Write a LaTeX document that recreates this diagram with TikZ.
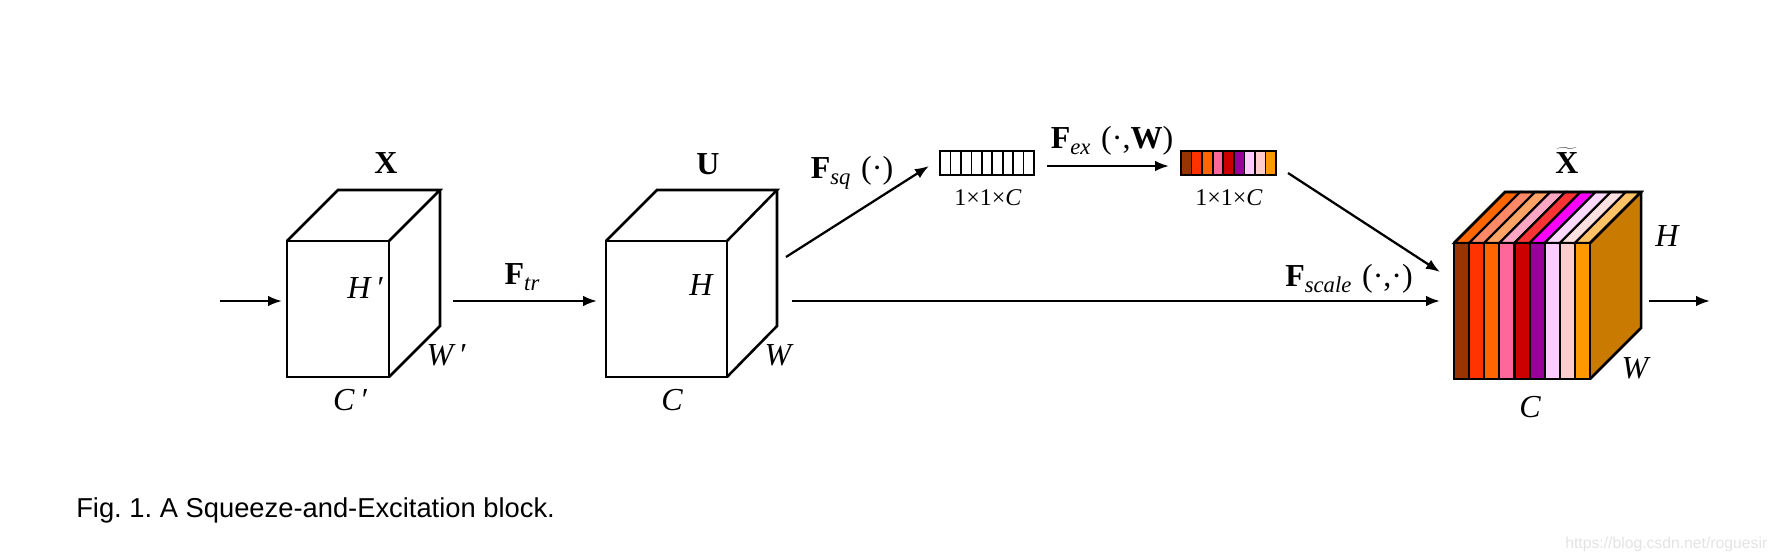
\documentclass[tikz,border=0pt]{standalone}
\usepackage{fontspec}
\setmainfont{Liberation Serif}
\newfontfamily\capfont{Liberation Sans}
\usetikzlibrary{arrows.meta}
\definecolor{fa}{HTML}{993300}\definecolor{fb}{HTML}{FF3300}\definecolor{fc}{HTML}{FF6600}
\definecolor{fd}{HTML}{FF6699}\definecolor{fe}{HTML}{CC0000}\definecolor{ff}{HTML}{990099}
\definecolor{fg}{HTML}{FFCCFF}\definecolor{fh}{HTML}{FFCCCC}\definecolor{fi}{HTML}{FF9900}
\definecolor{ta}{HTML}{FF6600}\definecolor{tb}{HTML}{FF8866}\definecolor{tc}{HTML}{FFA366}
\definecolor{td}{HTML}{FFA6C2}\definecolor{te}{HTML}{FF3333}\definecolor{tf}{HTML}{FF00FF}
\definecolor{tg}{HTML}{FFD9FF}\definecolor{th}{HTML}{FFE0E0}\definecolor{ti}{HTML}{FFC266}
\definecolor{sidecol}{HTML}{C97A00}
\newcommand\lowsub[1]{\raisebox{-4.5pt}{\fontsize{17}{17}\selectfont\itshape #1}}
\tikzset{
  arr/.style={line width=1.7pt,-{Latex[length=10.5pt,width=8pt]}},
  edge/.style={line width=1.9pt,line join=miter},
  lab/.style={anchor=base,inner sep=0pt,font=\fontsize{24}{26}\selectfont},
  ilab/.style={lab,font=\fontsize{24}{26}\selectfont\itshape},
  dim/.style={anchor=base,inner sep=0pt,font=\fontsize{18}{20}\selectfont},
  cell/.style={line width=1.6pt},
  thincell/.style={line width=1.25pt}
}
\begin{document}
\frenchspacing
\begin{tikzpicture}[x=0.75pt,y=-0.75pt]
\useasboundingbox (0,0) rectangle (1778,560);
% cube X
\draw[edge] (287,241) rectangle (389,377);
\draw[edge] (287,241) -- (338,190) -- (440,190) -- (389,241);
\draw[edge] (440,190) -- (440,326) -- (389,377);
% cube U
\draw[edge] (606,241) rectangle (727,377);
\draw[edge] (606,241) -- (657,190) -- (777,190) -- (727,241);
\draw[edge] (777,190) -- (777,326) -- (727,377);
% squeezed vector
\foreach \i in {1,...,8} \draw[thincell] ({940+\i*94/9},151) -- ({940+\i*94/9},175);
\draw[thincell] (940,151) rectangle (1034,175);
% coloured vector
\foreach \c [count=\i from 0] in {fa,fb,fc,fd,fe,ff,fg,fh,fi}
  \draw[thincell,fill=\c] ({1181+\i*95/9},151) rectangle ({1181+(\i+1)*95/9},175);
% cube X tilde
\fill[sidecol] (1590,243) -- (1641,192) -- (1641,328) -- (1590,379) -- cycle;
\foreach \c/\t [count=\i from 0] in {fa/ta,fb/tb,fc/tc,fd/td,fe/te,ff/tf,fg/tg,fh/th,fi/ti}{
  \draw[cell,fill=\t] ({1454+\i*136/9},243) -- ({1505+\i*136/9},192) -- ({1505+(\i+1)*136/9},192) -- ({1454+(\i+1)*136/9},243) -- cycle;
  \draw[cell,fill=\c] ({1454+\i*136/9},243) rectangle ({1454+(\i+1)*136/9},379);
}
\draw[edge] (1454,243) rectangle (1590,379);
\draw[edge] (1454,243) -- (1505,192) -- (1641,192) -- (1590,243);
\draw[edge] (1641,192) -- (1641,328) -- (1590,379);
% connector ends
\coordinate (inA) at (220,301);
\coordinate (inB) at (282,301);
\coordinate (trA) at (453,301);
\coordinate (trB) at (597,301);
\coordinate (mainA) at (792,301);
\coordinate (mainB) at (1440,301);
\coordinate (sqA) at (786,257);
\coordinate (sqB) at (929,166);
\coordinate (exA) at (1047,166);
\coordinate (exB) at (1169,166);
\coordinate (scA) at (1288,173);
\coordinate (scB) at (1440,272);
\coordinate (outA) at (1649,301);
\coordinate (outB) at (1710,301);
\draw[arr] (inA) -- (inB);
\draw[arr] (trA) -- (trB);
\draw[arr] (mainA) -- (mainB);
\draw[arr] (sqA) -- (sqB);
\draw[arr] (exA) -- (exB);
\draw[arr] (scA) -- (scB);
\draw[arr] (outA) -- (outB);
% labels
\node[lab] (lX) at (386,173) {\textbf{X}};
\node[ilab] (lHp) at (365,298) {H\,′};
\node[ilab] (lWp) at (446,365) {W\,′};
\node[ilab] (lCp) at (350,410) {C\,′};
\node[lab] (lFtr) at (522,284) {\textbf{F}\lowsub{tr}};
\node[lab] (lU) at (708,174) {\textbf{U}};
\node[ilab] (lH) at (701,295) {H};
\node[ilab] (lW) at (778,365) {W};
\node[ilab] (lC) at (672,410) {C};
\node[lab] (lFsq) at (852,178) {\textbf{F}\lowsub{sq}\,\,(·)};
\node[dim] (ldA) at (988,205) {1×1×\textit{C}};
\node[lab] (lFex) at (1112,148) {\textbf{F}\lowsub{ex}\,\,(·,\textbf{W})};
\node[dim] (ldB) at (1229,205) {1×1×\textit{C}};
\node[lab] (lFsc) at (1349,286) {\textbf{F}\lowsub{scale}\,\,(·,·)};
\node[lab] (lXt) at (1567,173) {$\widetilde{\hbox{\textbf{X}}}$};
\node[ilab] (lH3) at (1667,246) {H};
\node[ilab] (lW3) at (1635,378) {W};
\node[ilab] (lC3) at (1530,417) {C};
\node[anchor=base west,inner sep=0pt,font=\capfont\fontsize{20.5}{22}\selectfont] (cap) at (76,517) {Fig. 1. A Squeeze-and-Excitation block.};
\node[anchor=base west,inner sep=0pt,text=black!11,font=\capfont\fontsize{11.8}{14}\selectfont] (wm) at (1565,548) {https://blog.csdn.net/roguesir};
\end{tikzpicture}
\end{document}
